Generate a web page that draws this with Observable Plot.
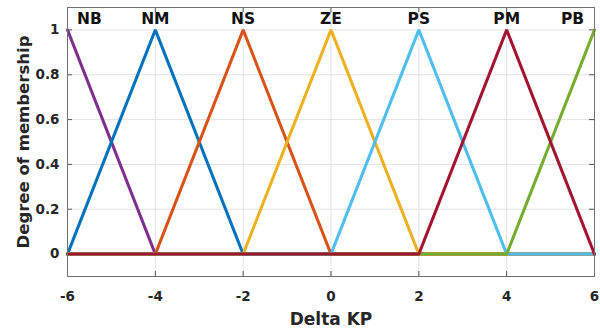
<!DOCTYPE html>
<html>
<head>
<meta charset="utf-8">
<script src="https://cdn.jsdelivr.net/npm/d3@7"></script>
<script src="https://cdn.jsdelivr.net/npm/@observablehq/plot@0.6"></script>
<style>
  html, body { margin: 0; padding: 0; background: #fff; }
  #chart { width: 600px; height: 336px; }
</style>
</head>
<body>
<div id="chart"></div>
<script>
// Membership function names, colors and vertex data (x, y) for each set
const setNames = ["NB", "NM", "NS", "ZE", "PS", "PB", "PM"]; // draw order
const setColors = ["#7E2F8E", "#0072BD", "#D95319", "#EDB120", "#4DBEEE", "#77AC30", "#A2142F"];
const vertX = [
  [-6, -4, 6],
  [-6, -4, -2, 6],
  [-6, -4, -2, 0, 6],
  [-6, -2, 0, 2, 6],
  [-6, 0, 2, 4, 6],
  [-6, 4, 6],
  [-6, 2, 4, 6]
];
const vertY = [
  [1, 0, 0],
  [0, 1, 0, 0],
  [0, 0, 1, 0, 0],
  [0, 0, 1, 0, 0],
  [0, 0, 1, 0, 0],
  [0, 0, 1],
  [0, 0, 1, 0]
];
// Top labels
const labelNames = ["NB", "NM", "NS", "ZE", "PS", "PM", "PB"];
const labelX = [-5.5, -4, -2, 0, 2, 4, 5.5];
const labelY = [1.05, 1.05, 1.05, 1.05, 1.05, 1.05, 1.05];
// Ticks
const xTicks = [-6, -4, -2, 0, 2, 4, 6];
const yTicks = [0, 0.2, 0.4, 0.6, 0.8, 1];

const rows = [];
setNames.forEach((name, i) => {
  vertX[i].forEach((x, j) => rows.push({set: name, x, y: vertY[i][j]}));
});
const labels = labelNames.map((n, i) => ({name: n, x: labelX[i], y: labelY[i]}));

const font = "'DejaVu Sans', 'Liberation Sans', Arial, sans-serif";
const W = 600, H = 336, mL = 67, mR = 6, mT = 7, mB = 60;
const fw = W - mL - mR, fh = H - mT - mB;

const chart = Plot.plot({
  width: W,
  height: H,
  marginLeft: mL,
  marginRight: mR,
  marginTop: mT,
  marginBottom: mB,
  style: {fontFamily: font, background: "#fff"},
  x: {domain: [-6, 6]},
  y: {domain: [-0.1, 1.1]},
  color: {domain: setNames, range: setColors},
  marks: [
    Plot.ruleX(xTicks, {x: d => d, stroke: "#e3e3e3", strokeWidth: 1}),
    Plot.ruleY(yTicks, {y: d => d, stroke: "#e3e3e3", strokeWidth: 1}),
    // inward tick marks
    Plot.ruleX(xTicks, {x: d => d, insetTop: fh - 5, stroke: "#555"}),
    Plot.ruleX(xTicks, {x: d => d, insetBottom: fh - 5, stroke: "#555"}),
    Plot.ruleY(yTicks, {y: d => d, insetRight: fw - 5, stroke: "#555"}),
    Plot.ruleY(yTicks, {y: d => d, insetLeft: fw - 5, stroke: "#555"}),
    Plot.line(rows, {x: "x", y: "y", z: "set", stroke: "set", strokeWidth: 3, strokeLinejoin: "miter"}),
    Plot.frame({stroke: "#707070", strokeWidth: 1}),
    Plot.axisX(xTicks, {tickSize: 0, tickPadding: 15, fontSize: 13.5, fontWeight: "bold", fill: "#262626", label: null, tickFormat: d => String(d).replace("−", "-")}),
    Plot.axisY(yTicks, {tickSize: 0, tickPadding: 8, fontSize: 13.5, fontWeight: "bold", fill: "#262626", label: null, tickFormat: d => String(d)}),
    Plot.text(labels, {x: "x", y: "y", text: "name", fontSize: 15.5, fontWeight: "bold", fill: "#111"}),
    Plot.text(["Delta KP"], {frameAnchor: "bottom", dy: 48, text: d => d, fontSize: 17, fontWeight: "bold", fill: "#262626"}),
    Plot.text(["Degree of membership"], {frameAnchor: "left", textAnchor: "middle", dx: -44, rotate: -90, text: d => d, fontSize: 16.5, fontWeight: "bold", fill: "#262626"})
  ]
});
document.getElementById("chart").appendChild(chart);
</script>
</body>
</html>
